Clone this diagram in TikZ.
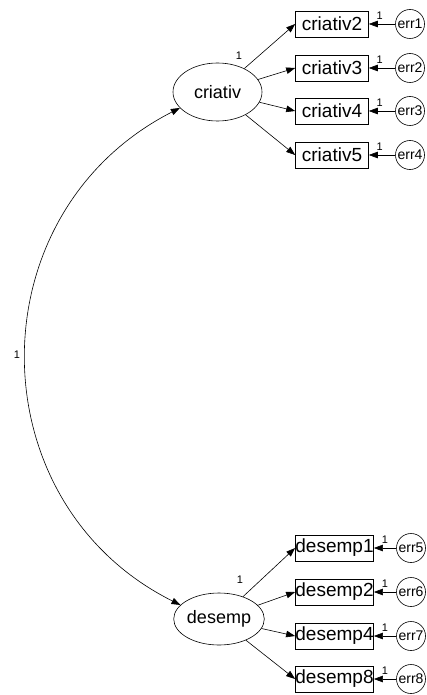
\documentclass[tikz,border=0pt]{standalone}
\usepackage{fontspec}
\setmainfont{Liberation Sans}
\usetikzlibrary{shapes.geometric,arrows.meta}
\begin{document}
\begin{tikzpicture}[x=1pt,y=-1pt,line width=0.6pt,
  tip/.style={-{Triangle[length=9pt,width=6.5pt]}},
  latent/.style={draw,ellipse,minimum width=89pt,minimum height=58pt,inner sep=0pt,font=\fontsize{18}{20}\selectfont},
  obs/.style={draw,rectangle,minimum width=73pt,minimum height=26pt,inner sep=0pt,font=\fontsize{19}{21}\selectfont},
  errv/.style={draw,circle,minimum size=29pt,inner sep=0pt,font=\fontsize{14}{15}\selectfont},
  lab/.style={font=\fontsize{11}{12}\selectfont,inner sep=0pt}]
\useasboundingbox (0,0) rectangle (427,695);
% latent variables
\node[latent] (criativ) at (217.5,92) {criativ};
\node[latent,minimum height=52pt] (desemp) at (219,619) {desemp};
\node[lab] (lc) at (239,56) {1};
\node[lab] (ld) at (240,580) {1};
% observed criativ
\node[obs] (c2) at (332,24) {criativ2};
\node[obs] (c3) at (332,68) {criativ3};
\node[obs] (c4) at (332,111) {criativ4};
\node[obs] (c5) at (332,155) {criativ5};
% observed desemp
\node[obs,minimum width=75pt] (d1) at (334.5,548) {desemp1};
\node[obs,minimum width=75pt] (d2) at (334.5,592) {desemp2};
\node[obs,minimum width=75pt] (d4) at (334.5,636) {desemp4};
\node[obs,minimum width=75pt] (d8) at (334.5,679) {desemp8};
% errors
\node[errv] (e1) at (410,24) {err1};
\node[errv] (e2) at (410,68) {err2};
\node[errv] (e3) at (410,111) {err3};
\node[errv] (e4) at (410,155) {err4};
\node[errv] (e5) at (411,548) {err5};
\node[errv] (e6) at (411,592) {err6};
\node[errv] (e7) at (411,636) {err7};
\node[errv] (e8) at (411,679) {err8};
% loadings
\foreach \b in {c2,c3,c4,c5} \draw[tip] (criativ) -- (\b.west);
\foreach \b in {d1,d2,d4,d8} \draw[tip] (desemp) -- (\b.west);
% error arrows
\foreach \e/\b in {e1/c2,e2/c3,e3/c4,e4/c5,e5/d1,e6/d2,e7/d4,e8/d8} {
  \draw[tip] (\e) -- (\b.east);
  \node[lab] at ([xshift=11pt,yshift=8pt]\b.east) {1};
}
% covariance
\draw[{Triangle[length=9pt,width=6.5pt]}-{Triangle[length=9pt,width=6.5pt]}]
  (criativ.203) .. controls (-26,213) and (-24,503) .. (desemp.160);
\node[lab] (lcov) at (17,355) {1};
\end{tikzpicture}
\end{document}
